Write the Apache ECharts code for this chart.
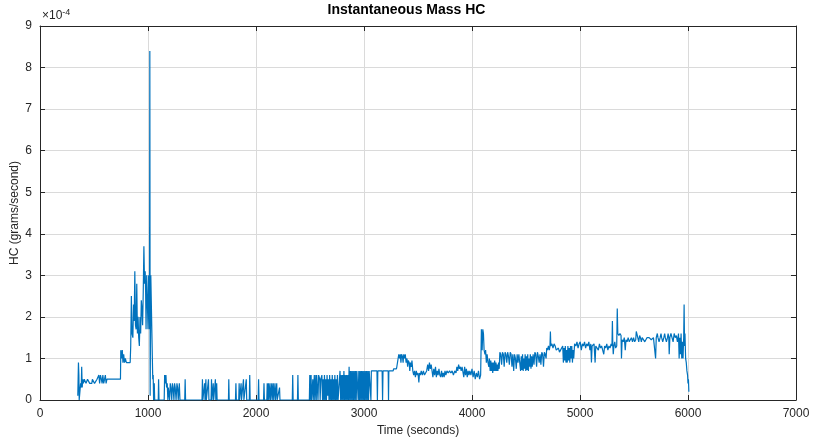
<!DOCTYPE html>
<html>
<head>
<meta charset="utf-8">
<script src="https://cdn.jsdelivr.net/npm/echarts@6/dist/echarts.min.js"></script>
<style>
  html, body { margin: 0; padding: 0; background: #ffffff; }
  #chart { width: 813px; height: 439px; }
</style>
</head>
<body>
<div id="chart"></div>
<script>
// Axis ticks
const timeTicks = [0, 1000, 2000, 3000, 4000, 5000, 6000, 7000];
const hcTicks = [0, 1, 2, 3, 4, 5, 6, 7, 8, 9];

// Instantaneous HC mass rate, [time (s), HC (1e-4 g/s)], split by test phase
const warmUp = [[350,0.1],[356,0.9],[360,0.6],[363,0],[372,0],[376,0.4],[382,0.3],[386,0.8],[391,0.3],[396,0.5],[402,0.4],[410,0.5],[420,0.5],[426,0.4],[440,0.5],[455,0.5],[460,0.4],[480,0.4],[485,0.5],[500,0.5],[505,0.4],[520,0.4],[528,0.5],[540,0.5],[545,0.6],[552,0.4],[560,0.6],[568,0.5],[575,0.4],[582,0.6],[590,0.4],[598,0.5],[605,0.6],[612,0.4],[620,0.5],[640,0.5],[660,0.5],[700,0.5],[745,0.5],[748,1.2],[755,1.0],[762,1.2],[768,0.9],[775,1.1],[782,0.9],[790,1.0],[800,0.9],[835,0.9]];

const surge = [[840,1.3],[846,2.5],[852,1.6],[860,1.5],[866,2.3],[872,1.9],[878,3.1],[884,1.8],[890,1.7],[896,2.8],[902,1.6],[908,2.0],[914,1.5],[920,1.3],[926,2.0],[932,1.6],[938,2.4],[944,2.2],[950,1.8],[956,2.6],[962,3.7],[968,2.8],[974,3.1],[978,2.6],[982,1.7],[988,3.0],[994,2.4],[1000,1.7],[1006,3.0],[1010,3.0],[1014,1.7],[1017,8.4],[1020,0.1],[1026,3.0],[1040,3.0],[1044,0.5],[1048,0.6],[1052,0],[1058,0.4],[1062,0]];

const idle = [[1095,0],[1098,0.5],[1102,0],[1150,0],[1154,0.6],[1160,0.4],[1166,0.6],[1172,0.3],[1178,0.4],[1184,0],[1188,0.3],[1196,0.3],[1200,0],[1206,0.4],[1212,0.3],[1220,0],[1226,0.4],[1232,0.3],[1240,0],[1246,0.4],[1252,0.3],[1260,0],[1268,0.4],[1274,0.3],[1280,0],[1290,0.4],[1296,0],[1340,0],[1344,0.5],[1348,0],[1500,0],[1504,0.5],[1508,0],[1520,0],[1524,0.4],[1528,0],[1536,0.5],[1540,0],[1556,0],[1560,0.5],[1564,0],[1584,0],[1588,0.5],[1592,0],[1604,0.4],[1608,0],[1620,0],[1624,0.5],[1628,0],[1636,0.4],[1640,0],[1745,0],[1748,0.5],[1752,0],[1810,0],[1814,0.4],[1818,0],[1840,0],[1844,0.4],[1848,0],[1862,0.4],[1866,0],[1880,0],[1884,0.5],[1888,0],[1905,0],[1910,0.5],[1914,0],[1938,0],[1942,0.6],[1946,0],[2020,0],[2024,0.5],[2028,0],[2070,0],[2074,0.4],[2078,0],[2100,0],[2104,0.4],[2108,0],[2116,0.4],[2120,0],[2130,0.4],[2134,0],[2146,0.4],[2150,0],[2160,0.4],[2164,0],[2176,0.4],[2180,0],[2192,0.4],[2196,0],[2218,0.3],[2222,0],[2336,0],[2340,0.6],[2344,0],[2384,0],[2388,0.6],[2392,0],[2494,0],[2498,0.6],[2502,0],[2510,0.6],[2514,0],[2526,0.5],[2530,0],[2540,0.6],[2544,0],[2554,0.6],[2558,0],[2562,0.6],[2570,0.6],[2574,0],[2580,0.6],[2590,0.5],[2594,0],[2600,0.5]];

const intermittent = [[2610,0.6],[2616,0],[2622,0.5],[2628,0],[2634,0.6],[2640,0],[2646,0.5],[2652,0],[2658,0.6],[2664,0.1],[2670,0.5],[2676,0],[2682,0.6],[2688,0],[2694,0.5],[2700,0],[2706,0.6],[2712,0],[2718,0.5],[2724,0],[2730,0.6],[2736,0],[2742,0.5],[2748,0],[2754,0.6],[2760,0],[2774,0],[2778,0.7],[2784,0],[2790,0.6],[2796,0],[2802,0.6],[2808,0],[2814,0.7],[2820,0],[2826,0.6],[2832,0],[2838,0.6],[2844,0],[2850,0.6],[2856,0],[2862,0.8],[2868,0],[2874,0.7],[2880,0],[2886,0.7],[2892,0],[2898,0.7],[2904,0],[2910,0.7],[2916,0],[2922,0.7],[2928,0],[2934,0.7],[2940,0.7],[2946,0],[2952,0.7],[2958,0],[2964,0.7],[2970,0],[2976,0.7],[2982,0],[2988,0.7],[2994,0],[3000,0.7],[3006,0],[3012,0.7],[3018,0],[3024,0.7],[3030,0],[3036,0.7],[3042,0],[3048,0.7],[3060,0.7],[3064,0],[3068,0.7],[3120,0.7],[3124,0],[3128,0.7],[3168,0.7],[3172,0],[3176,0.7],[3224,0.7],[3227,0],[3230,0.7],[3270,0.7],[3274,0.75],[3300,0.75],[3304,0.8],[3318,0.8]];

const cruise = [[3322,1.1],[3330,1.0],[3336,1.1],[3342,0.9],[3348,1.1],[3356,1.05],[3362,0.9],[3368,1.1],[3376,1.0],[3382,1.1],[3390,0.9],[3398,1.0],[3404,0.8],[3410,0.95],[3418,0.9],[3424,0.7],[3430,0.9],[3438,0.8],[3444,0.95],[3452,0.7],[3460,0.6],[3468,0.7],[3476,0.55],[3484,0.7],[3492,0.6],[3500,0.65],[3508,0.42],[3514,0.65],[3522,0.6],[3530,0.7],[3540,0.6],[3550,0.7],[3560,0.6],[3570,0.65],[3580,0.7],[3590,0.85],[3598,0.7],[3606,0.9],[3614,0.75],[3622,0.85],[3630,0.7],[3638,0.55],[3646,0.75],[3654,0.6],[3662,0.8],[3670,0.55],[3678,0.7],[3686,0.6],[3694,0.75],[3702,0.6],[3710,0.55],[3718,0.7],[3726,0.55],[3734,0.65],[3742,0.55],[3750,0.7],[3758,0.6],[3768,0.7],[3780,0.65],[3792,0.7],[3804,0.65],[3816,0.7],[3828,0.6],[3840,0.7],[3852,0.65],[3860,0.8],[3868,0.7],[3876,0.85],[3884,0.75],[3892,0.8],[3900,0.7],[3908,0.8],[3916,0.8],[3924,0.55],[3932,0.8],[3940,0.6],[3948,0.75],[3956,0.55],[3964,0.7],[3972,0.6],[3980,0.7],[3990,0.6],[4000,0.75],[4010,0.55],[4020,0.7],[4030,0.5],[4040,0.65],[4050,0.55],[4060,0.7],[4070,0.5],[4080,0.6]];

const highLoad = [[4087,1.7],[4094,1.2],[4100,1.7],[4106,1.6],[4112,1.2],[4120,1.1],[4126,1.2],[4133,0.9],[4140,1.1],[4148,0.9],[4156,0.8],[4161,1.0],[4168,0.7],[4174,0.95],[4180,0.7],[4186,0.9],[4192,0.65],[4198,0.9],[4204,0.7],[4210,0.95],[4216,0.7],[4222,0.9],[4228,0.7],[4234,0.85],[4240,0.7],[4246,0.9],[4252,0.75],[4258,1.15],[4266,1.1],[4274,0.85],[4282,1.15],[4290,1.1],[4298,0.8],[4306,1.15],[4314,1.1],[4322,0.9],[4330,1.15],[4338,1.05],[4346,0.85],[4354,1.15],[4362,1.1],[4370,0.8],[4378,1.1],[4386,0.7],[4394,1.1],[4402,1.0],[4410,0.75],[4418,1.1],[4426,0.9],[4434,1.1],[4444,1.1],[4450,0.7],[4456,1.05],[4462,0.72],[4468,1.1],[4474,0.7],[4480,1.0],[4486,0.75],[4492,1.1],[4498,0.7],[4504,1.05],[4510,0.72],[4516,1.1],[4522,0.7],[4528,1.0],[4534,0.8],[4540,1.1],[4546,0.75],[4552,1.05],[4558,0.8],[4566,1.1],[4574,0.85],[4582,1.15],[4590,1.1],[4598,0.8],[4606,1.15],[4614,1.05],[4622,0.9],[4630,1.1],[4638,0.85],[4646,1.15],[4654,1.1],[4662,0.8],[4670,1.15],[4678,1.1],[4686,1.0],[4692,1.25],[4700,1.2],[4708,1.3],[4716,1.2],[4722,1.3],[4726,1.65],[4730,1.3],[4740,1.35],[4750,1.25],[4760,1.35],[4770,1.3],[4780,1.2],[4790,1.2],[4800,1.25],[4810,1.15],[4820,1.2],[4830,1.25],[4840,1.3],[4846,0.9],[4852,1.25],[4858,0.95],[4864,1.3],[4870,0.9],[4876,1.2],[4882,0.9],[4888,1.3],[4894,0.95],[4900,1.25],[4906,0.9],[4912,1.3],[4918,1.0],[4924,1.3],[4930,0.9],[4936,1.2],[4942,1.0]];

const finalPhase = [[4950,1.35],[4962,1.3],[4972,1.4],[4982,1.25],[4992,1.35],[5002,1.4],[5012,1.2],[5022,1.35],[5032,1.3],[5042,1.4],[5052,1.25],[5062,1.35],[5072,1.3],[5082,1.4],[5092,1.2],[5100,1.35],[5106,0.9],[5112,1.3],[5120,1.3],[5130,1.35],[5140,0.9],[5146,1.3],[5160,1.3],[5170,1.2],[5180,1.35],[5190,1.25],[5200,1.3],[5210,1.2],[5220,1.1],[5228,1.3],[5238,1.25],[5248,1.35],[5258,1.2],[5268,1.3],[5278,1.25],[5288,1.35],[5296,1.3],[5300,1.9],[5304,1.3],[5308,1.1],[5314,1.3],[5322,1.4],[5330,1.25],[5340,1.3],[5345,2.2],[5350,1.6],[5360,1.55],[5370,1.6],[5380,1.55],[5384,1.0],[5390,1.45],[5400,1.4],[5410,1.5],[5419,1.2],[5426,1.45],[5436,1.4],[5446,1.5],[5456,1.4],[5466,1.45],[5476,1.5],[5486,1.4],[5496,1.5],[5506,1.4],[5516,1.45],[5521,1.65],[5528,1.58],[5536,1.55],[5544,1.4],[5552,1.55],[5560,1.5],[5568,1.4],[5576,1.5],[5590,1.5],[5600,1.4],[5610,1.4],[5620,1.5],[5640,1.5],[5660,1.45],[5680,1.5],[5696,1.5],[5700,1.0],[5706,1.5],[5716,1.6],[5722,1.5],[5732,1.4],[5742,1.5],[5750,1.6],[5756,1.5],[5766,1.4],[5776,1.5],[5784,1.6],[5790,1.5],[5800,1.4],[5810,1.5],[5816,1.6],[5822,1.5],[5826,1.1],[5832,1.5],[5842,1.6],[5852,1.5],[5862,1.4],[5872,1.6],[5882,1.5],[5892,1.55],[5902,1.4],[5912,1.6],[5918,1.0],[5924,1.5],[5930,1.1],[5936,1.6],[5942,1.0],[5948,1.4],[5954,1.0],[5960,1.5],[5964,2.3],[5968,1.3],[5972,1.6],[5978,1.0],[5984,0.9],[5990,0.7],[5996,0.6],[6000,0.4],[6004,0.5],[6008,0.2]];

const hcSeries = [].concat(warmUp, surge, idle, intermittent, cruise, highLoad, finalPhase);

const FONT = '"Liberation Sans", Arial, Helvetica, sans-serif';
const INK = '#262626';
const GRID_GRAY = '#dadada';

const chart = echarts.init(document.getElementById('chart'), null, { renderer: 'canvas' });

function frameAxis(extra) {
  return Object.assign({
    type: 'value',
    axisLine: { show: true, onZero: false, lineStyle: { color: INK, width: 1 } },
    axisTick: { show: true, inside: true, length: 5, lineStyle: { color: INK, width: 1 } },
    splitLine: { show: false },
    axisLabel: { show: false }
  }, extra);
}

chart.setOption({
  animation: false,
  backgroundColor: '#ffffff',
  title: {
    text: 'Instantaneous Mass HC',
    left: 'center',
    top: -2,
    textStyle: { fontFamily: FONT, fontSize: 14, fontWeight: 'bold', color: '#000000' }
  },
  grid: { left: 40, right: 17, top: 26, bottom: 39, containLabel: false, outerBoundsMode: 'none' },
  xAxis: [
    frameAxis({
      position: 'bottom',
      min: timeTicks[0], max: timeTicks[timeTicks.length - 1], interval: 1000,
      name: 'Time (seconds)', nameLocation: 'middle', nameGap: 25,
      nameTextStyle: { fontFamily: FONT, fontSize: 12, color: INK },
      axisLabel: { show: true, fontFamily: FONT, fontSize: 12, color: INK, margin: 8,
        formatter: function (v) { return String(v); } },
      splitLine: { show: true, lineStyle: { color: GRID_GRAY, width: 1 } }
    }),
    frameAxis({
      position: 'top',
      min: timeTicks[0], max: timeTicks[timeTicks.length - 1], interval: 1000
    })
  ],
  yAxis: [
    frameAxis({
      position: 'left',
      min: hcTicks[0], max: hcTicks[hcTicks.length - 1], interval: 1,
      name: 'HC (grams/second)', nameLocation: 'middle', nameGap: 19,
      nameMoveOverlap: false,
      nameTextStyle: { fontFamily: FONT, fontSize: 12, color: INK },
      axisLabel: { show: true, fontFamily: FONT, fontSize: 12, color: INK, margin: 8 },
      splitLine: { show: true, lineStyle: { color: GRID_GRAY, width: 1 } }
    }),
    frameAxis({
      position: 'right',
      min: hcTicks[0], max: hcTicks[hcTicks.length - 1], interval: 1
    })
  ],
  graphic: [{
    type: 'text',
    left: 42,
    top: 8,
    style: {
      text: '×10{sup|-4}',
      fontFamily: FONT,
      fontSize: 12,
      fill: INK,
      rich: { sup: { fontFamily: FONT, fontSize: 9, fill: INK, verticalAlign: 'top', padding: [0, 0, 7, 0] } }
    }
  }],
  series: [{
    type: 'line',
    xAxisIndex: 0,
    yAxisIndex: 0,
    data: hcSeries,
    showSymbol: false,
    symbol: 'none',
    sampling: null,
    lineStyle: { color: '#0072BD', width: 1.2 },
    itemStyle: { color: '#0072BD' }
  }]
});
</script>
</body>
</html>
